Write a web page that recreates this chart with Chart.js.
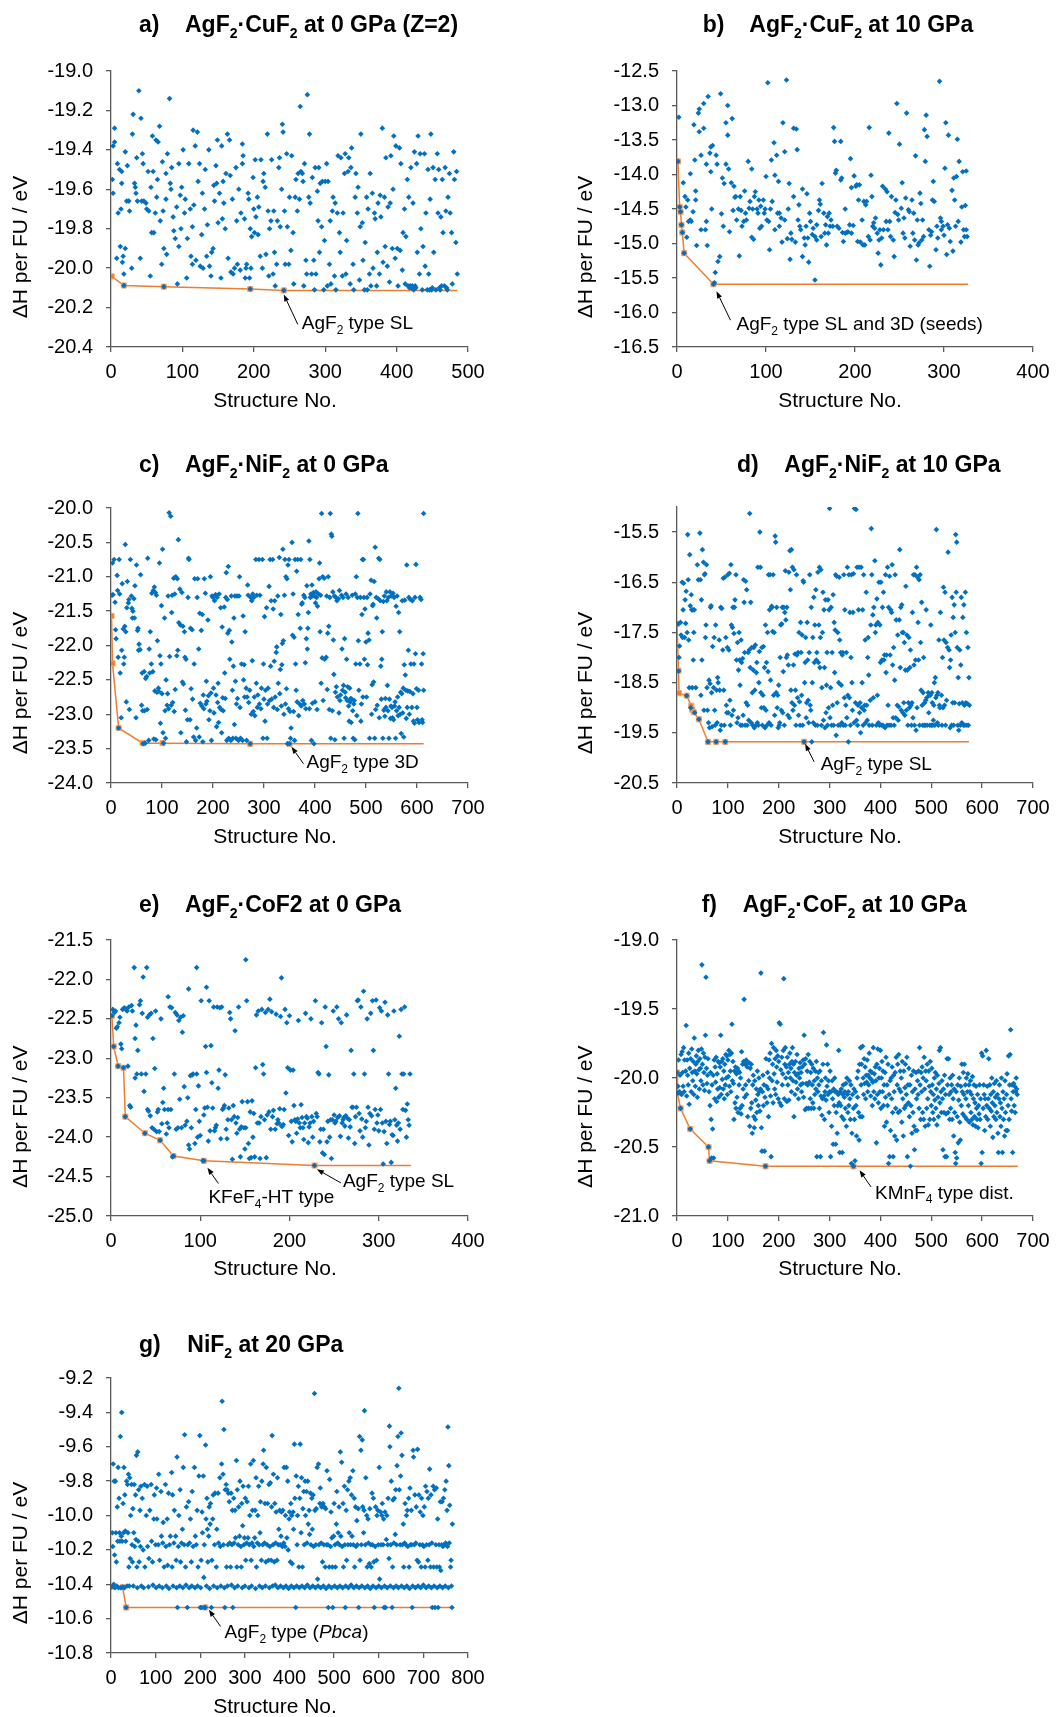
<!DOCTYPE html>
<html>
<head>
<meta charset="utf-8">
<script src="https://cdn.jsdelivr.net/npm/chart.js@4.4.1/dist/chart.umd.min.js"></script>
<style>
body { margin: 0; background: #fff; width: 1062px; height: 1717px; position: relative; overflow: hidden; }
canvas { position: absolute; }
</style>
</head>
<body>
<canvas id="ca" width="531" height="430" style="left:0;top:0"></canvas>
<canvas id="cb" width="531" height="430" style="left:531px;top:0"></canvas>
<canvas id="cc" width="531" height="440" style="left:0;top:430px"></canvas>
<canvas id="cd" width="531" height="440" style="left:531px;top:430px"></canvas>
<canvas id="ce" width="531" height="440" style="left:0;top:870px"></canvas>
<canvas id="cf" width="531" height="440" style="left:531px;top:870px"></canvas>
<canvas id="cg" width="531" height="407" style="left:0;top:1310px"></canvas>
<script>
// [structure no., ΔH per FU (eV)]
const aPts = [[2,-19.55],[3,-19.62],[3,-19.38],[5,-19.36],[5,-19.29],[8,-19.95],[9,-19.47],[10,-19.72],[12,-19.5],[13,-19.89],[14,-19.7],[15,-19.57],[15,-19.51],[16,-19.97],[17,-19.94],[18,-20.03],[18,-20.088],[20,-19.9],[20,-19.41],[22,-19.66],[23,-19.48],[25,-19.66],[26,-19.71],[29,-20.0],[30,-19.32],[31,-19.22],[33,-19.57],[34,-19.59],[35,-19.62],[36,-19.44],[37,-19.66],[39,-19.1],[41,-19.95],[42,-19.24],[43,-19.66],[44,-19.42],[45,-19.47],[46,-19.66],[49,-19.67],[50,-19.7],[52,-19.51],[53,-19.71],[55,-20.04],[56,-19.59],[57,-19.82],[58,-19.33],[59,-19.51],[60,-19.82],[62,-19.72],[63,-19.35],[64,-19.64],[65,-19.55],[66,-19.36],[68,-19.28],[69,-19.76],[71,-19.98],[72,-19.46],[73,-19.71],[74,-19.9],[74,-20.094],[77,-19.65],[77,-19.52],[78,-19.93],[79,-19.42],[82,-19.14],[83,-19.57],[84,-19.6],[85,-19.49],[87,-19.74],[88,-19.81],[90,-19.85],[92,-19.69],[93,-20.08],[95,-19.89],[95,-19.47],[97,-19.63],[98,-19.8],[99,-19.59],[101,-19.4],[103,-19.72],[104,-19.65],[106,-20.05],[107,-19.85],[109,-19.47],[111,-19.7],[112,-19.94],[114,-19.98],[114,-19.79],[115,-19.3],[116,-19.68],[118,-19.38],[119,-19.96],[121,-19.31],[122,-19.56],[124,-19.47],[125,-19.99],[127,-19.83],[128,-19.62],[129,-20.0],[131,-19.7],[132,-19.5],[134,-19.94],[135,-19.78],[137,-19.4],[138,-19.99],[140,-20.04],[141,-19.92],[143,-19.9],[144,-19.58],[145,-19.66],[147,-19.48],[148,-19.57],[149,-19.35],[150,-19.77],[152,-19.62],[154,-20.05],[155,-19.38],[156,-19.75],[157,-19.56],[158,-19.67],[160,-19.8],[161,-19.52],[163,-19.32],[164,-19.95],[166,-19.35],[167,-19.53],[168,-20.02],[170,-19.65],[171,-20.03],[173,-20.0],[175,-19.49],[176,-19.76],[177,-19.98],[179,-19.6],[181,-20.01],[182,-19.72],[184,-19.37],[184,-19.47],[185,-19.43],[187,-19.75],[188,-20.05],[189,-20.0],[190,-19.98],[192,-19.62],[193,-19.65],[194,-20.05],[195,-20.106],[195,-19.8],[196,-20.0],[197,-19.84],[199,-19.54],[200,-19.7],[201,-19.82],[202,-19.45],[203,-19.74],[205,-19.64],[206,-19.83],[207,-19.69],[209,-19.94],[210,-19.45],[212,-20.0],[213,-19.56],[214,-19.52],[216,-19.59],[217,-19.93],[219,-19.32],[220,-19.71],[221,-20.04],[222,-19.8],[224,-19.76],[225,-19.45],[227,-20.03],[228,-19.71],[229,-19.92],[230,-20.09],[232,-19.98],[233,-19.76],[235,-19.49],[236,-19.44],[237,-19.79],[239,-19.6],[240,-19.27],[241,-19.31],[242,-20.113],[243,-19.71],[244,-19.98],[246,-19.42],[247,-19.79],[249,-19.98],[250,-19.64],[252,-19.91],[253,-19.43],[255,-19.82],[256,-20.08],[258,-19.64],[259,-19.55],[261,-19.71],[262,-19.52],[264,-19.65],[265,-19.18],[266,-19.51],[268,-19.52],[269,-19.56],[270,-20.09],[271,-19.47],[273,-19.96],[274,-20.03],[275,-19.12],[277,-19.64],[278,-19.32],[279,-19.67],[281,-20.03],[282,-19.54],[284,-19.96],[285,-20.11],[286,-19.49],[287,-20.03],[289,-19.61],[290,-19.76],[291,-19.49],[292,-19.92],[293,-19.57],[295,-19.79],[296,-19.56],[298,-20.11],[299,-19.86],[300,-19.56],[302,-19.47],[303,-20.09],[304,-19.56],[306,-19.98],[307,-19.76],[308,-20.08],[310,-19.71],[311,-19.64],[313,-20.04],[314,-19.67],[315,-20.11],[317,-19.72],[318,-19.43],[320,-19.82],[321,-19.92],[322,-19.44],[324,-20.04],[325,-19.72],[327,-19.52],[328,-19.42],[329,-20.03],[330,-19.86],[332,-19.51],[333,-19.44],[335,-20.08],[336,-19.49],[337,-19.39],[339,-19.98],[340,-20.11],[342,-19.64],[343,-19.52],[345,-19.72],[346,-19.59],[348,-20.06],[349,-19.79],[350,-19.32],[352,-19.77],[353,-19.96],[355,-20.11],[356,-19.87],[358,-19.64],[359,-20.11],[360,-19.7],[362,-20.03],[363,-19.52],[364,-20.09],[366,-19.62],[367,-20.0],[369,-19.72],[370,-19.75],[372,-20.09],[373,-19.92],[374,-19.67],[376,-20.03],[377,-19.63],[378,-19.74],[380,-19.29],[381,-19.97],[383,-19.64],[384,-19.89],[385,-19.44],[387,-19.99],[388,-19.69],[390,-20.07],[391,-19.67],[392,-19.43],[394,-19.9],[395,-19.6],[396,-19.33],[398,-19.95],[399,-19.38],[401,-19.9],[402,-20.09],[404,-19.39],[405,-19.91],[406,-19.47],[408,-20.01],[409,-19.82],[411,-19.7],[412,-20.08],[413,-19.84],[415,-19.55],[416,-20.09],[417,-19.64],[418,-20.1],[419,-20.09],[420,-19.49],[421,-20.1],[422,-20.09],[423,-19.67],[424,-20.11],[425,-19.41],[426,-20.09],[427,-20.1],[428,-19.47],[429,-19.92],[430,-19.33],[432,-20.03],[433,-19.42],[434,-19.8],[436,-20.11],[437,-19.89],[439,-19.42],[440,-19.99],[441,-19.72],[443,-20.11],[444,-19.5],[445,-20.03],[446,-20.11],[447,-19.65],[448,-19.32],[449,-20.11],[450,-20.1],[451,-19.49],[452,-19.92],[454,-19.55],[455,-20.11],[457,-19.42],[458,-19.72],[459,-19.5],[460,-20.1],[461,-20.11],[462,-19.74],[463,-20.09],[464,-19.55],[465,-19.82],[467,-20.09],[468,-19.49],[469,-19.71],[470,-20.1],[471,-20.11],[472,-19.64],[474,-19.52],[475,-19.72],[477,-19.82],[478,-20.08],[480,-19.41],[481,-19.55],[483,-19.87],[484,-19.51],[485,-20.03]];
const aMin = [[1,-20.042],[18,-20.088],[74,-20.094],[195,-20.106],[242,-20.113],[485,-20.113]];

const bPts = [[2,-13.17],[1,-13.81],[3,-14.47],[4,-14.54],[5,-14.73],[6,-14.84],[7,-14.12],[8,-15.14],[9,-14.32],[10,-14.47],[11,-14.91],[12,-14.37],[13,-14.68],[15,-14.66],[15,-13.99],[16,-14.68],[18,-14.54],[19,-13.28],[20,-13.79],[21,-14.24],[21,-14.37],[22,-15.03],[24,-13.11],[25,-13.05],[25,-13.38],[27,-14.8],[27,-13.72],[30,-13.33],[30,-12.97],[32,-14.8],[33,-13.85],[33,-14.68],[34,-15.03],[35,-12.87],[37,-13.69],[38,-13.6],[38,-13.96],[39,-14.5],[40,-13.58],[41,-15.59],[42,-15.57],[43,-15.42],[44,-13.72],[45,-13.85],[46,-15.26],[48,-15.19],[49,-12.83],[50,-14.57],[51,-14.05],[52,-14.75],[53,-14.13],[55,-13.25],[55,-13.85],[57,-13.43],[57,-13.0],[58,-13.92],[59,-14.83],[61,-14.12],[62,-13.19],[63,-14.52],[64,-14.17],[65,-14.33],[66,-14.32],[67,-14.66],[69,-14.5],[70,-15.18],[71,-14.32],[72,-14.52],[73,-14.75],[75,-14.68],[76,-14.24],[77,-14.56],[78,-14.66],[80,-13.81],[81,-14.49],[82,-14.39],[84,-14.91],[84,-13.92],[85,-14.5],[86,-14.94],[87,-14.32],[88,-14.25],[90,-14.5],[91,-14.56],[92,-14.37],[93,-14.78],[94,-14.46],[95,-14.75],[97,-14.37],[98,-14.56],[99,-14.5],[100,-14.03],[101,-14.66],[102,-12.67],[103,-14.68],[104,-15.09],[105,-14.5],[106,-13.79],[107,-14.39],[109,-13.54],[110,-14.01],[110,-14.8],[112,-13.72],[113,-14.56],[114,-14.1],[115,-14.56],[115,-14.75],[117,-14.63],[118,-14.98],[119,-13.25],[121,-14.66],[121,-13.67],[123,-12.63],[124,-14.93],[125,-14.5],[126,-14.13],[127,-15.23],[128,-14.85],[129,-14.94],[131,-14.32],[131,-13.33],[133,-14.98],[134,-13.34],[135,-13.64],[136,-14.66],[137,-14.44],[138,-14.75],[139,-14.8],[141,-14.21],[141,-15.19],[143,-14.92],[144,-15.02],[145,-14.75],[146,-14.28],[147,-14.92],[148,-15.27],[149,-14.56],[150,-14.68],[152,-14.87],[153,-14.78],[155,-15.53],[155,-14.9],[157,-14.95],[157,-14.73],[159,-14.52],[160,-14.37],[161,-14.43],[162,-14.9],[163,-14.13],[165,-14.56],[166,-14.85],[167,-14.73],[168,-15.02],[169,-14.61],[170,-14.85],[171,-14.56],[172,-14.75],[173,-14.66],[175,-14.75],[176,-13.32],[177,-13.52],[178,-13.98],[179,-13.94],[180,-14.75],[182,-14.78],[184,-14.08],[184,-13.52],[185,-14.05],[186,-14.84],[187,-14.97],[189,-14.85],[189,-14.5],[191,-14.84],[192,-14.83],[194,-14.73],[195,-13.77],[196,-14.85],[196,-14.19],[198,-14.74],[199,-14.02],[201,-14.17],[202,-14.15],[203,-14.97],[204,-14.37],[205,-14.15],[206,-14.98],[208,-14.66],[209,-15.02],[210,-14.39],[211,-15.02],[212,-14.44],[213,-14.39],[215,-14.9],[216,-13.32],[217,-14.95],[218,-14.01],[219,-14.32],[220,-14.75],[221,-14.7],[222,-14.78],[223,-14.63],[225,-14.85],[226,-15.14],[227,-14.95],[228,-14.8],[229,-15.31],[230,-14.92],[231,-14.17],[232,-14.8],[234,-14.21],[235,-14.68],[236,-14.25],[237,-14.8],[238,-13.4],[239,-14.68],[240,-14.9],[241,-14.32],[243,-14.95],[244,-15.19],[245,-14.55],[246,-14.37],[247,-12.97],[248,-14.58],[249,-14.66],[250,-13.56],[252,-14.49],[253,-14.12],[254,-14.85],[255,-14.63],[256,-14.92],[257,-14.34],[258,-13.11],[260,-14.51],[261,-14.54],[262,-15.04],[264,-14.37],[265,-14.85],[266,-14.56],[267,-14.95],[268,-13.73],[269,-15.24],[270,-14.66],[271,-15.02],[272,-14.99],[273,-14.27],[274,-14.42],[275,-14.95],[276,-14.66],[277,-14.9],[278,-13.35],[279,-13.81],[280,-13.14],[281,-13.45],[283,-14.8],[284,-15.33],[285,-14.88],[286,-14.83],[287,-14.37],[288,-14.1],[289,-14.39],[291,-15.09],[292,-14.75],[293,-14.92],[295,-12.65],[296,-14.63],[297,-14.8],[297,-14.68],[299,-14.75],[300,-14.88],[301,-13.91],[302,-13.25],[303,-15.16],[304,-14.73],[305,-13.43],[306,-14.78],[307,-14.97],[309,-14.23],[310,-15.11],[311,-14.05],[312,-14.37],[313,-14.75],[314,-14.03],[315,-13.49],[316,-14.68],[317,-13.81],[319,-14.98],[320,-14.47],[321,-13.96],[322,-14.8],[323,-14.9],[324,-14.45],[325,-14.8],[326,-14.9],[325,-13.95]];
const bMin = [[1,-13.81],[3,-14.47],[4,-14.54],[5,-14.73],[6,-14.84],[8,-15.14],[41,-15.59],[327,-15.59]];

const cPts = [[2,-21.27],[3,-20.8],[4,-21.26],[6,-20.75],[8,-21.37],[9,-21.77],[10,-21.9],[12,-20.98],[13,-21.2],[14,-22.17],[15,-23.2],[16,-20.75],[17,-21.25],[18,-22.4],[20,-23.05],[21,-22.07],[22,-21.1],[24,-21.76],[25,-22.27],[26,-22.17],[27,-21.72],[28,-20.53],[29,-21.8],[30,-22.82],[31,-21.45],[32,-21.07],[34,-21.38],[35,-21.33],[36,-22.93],[38,-20.75],[40,-21.28],[41,-21.46],[42,-21.6],[43,-21.5],[45,-21.32],[46,-21.6],[47,-21.13],[49,-23.05],[50,-20.83],[52,-21.78],[53,-21.75],[54,-22.07],[55,-21.98],[57,-22.06],[58,-20.97],[60,-22.87],[61,-22.4],[62,-22.95],[63,-23.43],[65,-22.38],[66,-22.95],[67,-23.42],[68,-22.48],[70,-22.45],[71,-22.93],[72,-20.73],[74,-23.38],[75,-22.05],[76,-22.4],[77,-21.8],[79,-22.27],[80,-21.24],[82,-22.38],[83,-21.2],[84,-23.36],[85,-21.15],[86,-22.66],[87,-21.23],[88,-23.37],[89,-21.27],[90,-22.68],[91,-21.93],[93,-22.62],[94,-22.67],[95,-20.8],[96,-22.15],[97,-23.13],[98,-22.27],[99,-21.42],[100,-22.7],[101,-20.6],[102,-23.27],[103,-23.42],[105,-21.6],[106,-22.95],[107,-23.35],[108,-22.5],[110,-22.87],[111,-22.7],[112,-21.28],[113,-22.92],[114,-20.07],[115,-22.16],[117,-20.12],[118,-22.87],[119,-21.52],[120,-21.27],[121,-22.83],[123,-21.02],[124,-22.96],[125,-21.25],[126,-22.64],[127,-21.0],[129,-22.15],[130,-21.03],[131,-22.07],[132,-20.46],[133,-21.67],[135,-21.18],[136,-21.7],[137,-23.27],[139,-21.23],[140,-22.53],[141,-21.72],[142,-22.56],[144,-21.8],[145,-22.17],[146,-22.94],[147,-22.2],[148,-23.4],[150,-23.08],[151,-21.3],[152,-20.73],[153,-20.75],[155,-23.08],[156,-21.75],[157,-22.63],[159,-21.77],[160,-22.78],[162,-23.33],[163,-22.27],[164,-21.03],[166,-23.38],[168,-23.2],[169,-21.3],[170,-21.03],[172,-22.05],[173,-23.33],[174,-21.53],[175,-22.84],[177,-21.78],[178,-22.88],[179,-21.55],[180,-23.4],[181,-22.72],[182,-22.92],[183,-21.03],[185,-21.24],[186,-22.85],[187,-22.52],[188,-22.81],[190,-21.63],[191,-22.73],[192,-23.08],[194,-22.95],[195,-21.0],[196,-22.69],[197,-23.38],[198,-21.28],[200,-21.3],[201,-22.62],[202,-22.98],[203,-21.35],[205,-21.26],[206,-22.72],[207,-23.18],[208,-21.3],[209,-22.83],[210,-22.55],[211,-23.12],[212,-21.25],[213,-22.9],[215,-21.45],[216,-22.93],[217,-23.27],[218,-21.73],[219,-22.76],[220,-22.95],[222,-21.44],[223,-22.4],[224,-22.77],[225,-21.3],[226,-20.94],[227,-23.38],[228,-21.33],[229,-21.82],[230,-20.85],[231,-23.35],[232,-21.78],[233,-22.2],[235,-23.38],[236,-21.28],[237,-21.95],[238,-22.65],[239,-23.35],[240,-22.3],[241,-21.6],[242,-23.15],[243,-21.28],[244,-22.52],[245,-23.35],[246,-22.85],[247,-21.28],[248,-22.77],[250,-23.38],[251,-21.28],[252,-21.0],[253,-22.9],[254,-23.35],[256,-22.27],[258,-23.38],[259,-21.57],[260,-22.5],[261,-22.28],[262,-22.75],[263,-21.8],[265,-22.62],[266,-23.38],[267,-22.75],[268,-21.12],[269,-21.27],[270,-22.83],[272,-22.65],[273,-23.43],[274,-21.3],[275,-23.0],[276,-21.35],[277,-22.22],[278,-21.25],[279,-22.96],[280,-21.3],[281,-22.75],[282,-23.02],[284,-20.75],[285,-22.55],[286,-21.27],[287,-22.9],[288,-22.72],[290,-20.75],[291,-22.85],[292,-21.27],[294,-22.92],[295,-22.62],[297,-20.75],[298,-23.35],[299,-22.27],[300,-22.78],[301,-21.58],[302,-23.1],[303,-22.65],[305,-21.45],[306,-23.35],[307,-22.85],[308,-22.62],[310,-21.14],[311,-22.8],[312,-20.75],[313,-22.3],[314,-21.35],[315,-22.78],[317,-20.75],[318,-21.47],[319,-22.9],[320,-22.23],[321,-21.35],[322,-22.75],[324,-22.1],[325,-22.02],[326,-22.93],[327,-21.28],[328,-22.55],[330,-20.72],[331,-22.7],[332,-22.35],[333,-21.55],[334,-22.88],[335,-22.28],[336,-21.97],[337,-20.6],[338,-21.93],[339,-23.0],[340,-21.27],[341,-20.75],[342,-22.85],[343,-21.0],[344,-22.63],[345,-21.03],[346,-23.43],[347,-20.83],[348,-22.92],[349,-20.75],[350,-23.43],[351,-22.96],[352,-23.35],[353,-23.2],[355,-20.5],[356,-21.85],[357,-21.25],[358,-22.96],[359,-21.88],[360,-23.38],[361,-20.75],[362,-22.27],[363,-22.65],[364,-20.92],[365,-22.82],[366,-20.75],[367,-21.55],[368,-23.02],[370,-22.85],[371,-21.75],[372,-20.75],[373,-22.88],[374,-21.4],[375,-21.38],[376,-22.8],[378,-21.27],[379,-22.85],[380,-21.3],[381,-22.25],[382,-22.92],[383,-21.9],[384,-21.13],[385,-22.05],[386,-21.75],[387,-21.52],[388,-20.48],[389,-22.92],[390,-20.75],[391,-21.3],[392,-21.25],[393,-23.38],[394,-21.12],[395,-22.84],[396,-21.28],[397,-21.23],[398,-23.43],[399,-21.28],[400,-22.82],[401,-21.38],[402,-21.22],[403,-21.3],[404,-22.93],[405,-21.43],[407,-21.25],[408,-21.03],[409,-20.8],[410,-21.8],[411,-21.27],[412,-22.55],[413,-20.08],[414,-22.18],[415,-21.0],[416,-22.8],[418,-21.02],[419,-22.2],[422,-22.17],[423,-21.28],[424,-22.64],[425,-21.82],[426,-21.0],[427,-21.72],[428,-22.93],[429,-21.3],[430,-20.08],[431,-23.35],[432,-20.38],[433,-20.41],[434,-22.95],[435,-21.22],[436,-21.92],[437,-22.42],[438,-21.28],[439,-23.37],[440,-22.68],[441,-21.3],[442,-22.6],[443,-21.35],[444,-22.75],[446,-21.32],[447,-22.98],[448,-21.2],[449,-22.8],[450,-22.72],[452,-21.27],[453,-22.05],[454,-22.65],[455,-21.3],[456,-22.58],[457,-23.35],[458,-21.9],[459,-22.68],[460,-22.76],[461,-21.25],[462,-22.2],[463,-22.8],[464,-22.6],[465,-21.3],[466,-22.88],[467,-23.1],[468,-22.62],[469,-22.82],[470,-22.77],[471,-23.12],[472,-22.78],[473,-21.27],[474,-22.95],[475,-23.35],[476,-22.85],[477,-22.8],[478,-23.37],[479,-21.25],[480,-22.27],[481,-21.0],[482,-23.02],[483,-21.3],[484,-20.08],[485,-21.93],[486,-22.65],[488,-22.27],[489,-21.3],[490,-23.1],[491,-22.85],[492,-21.55],[493,-20.75],[494,-22.75],[495,-20.75],[496,-21.3],[497,-22.2],[498,-21.47],[500,-21.95],[501,-22.75],[502,-21.3],[503,-22.28],[504,-21.82],[506,-21.92],[507,-23.35],[508,-21.25],[510,-21.05],[511,-23.0],[512,-22.57],[513,-21.42],[514,-21.4],[515,-22.53],[516,-21.07],[517,-23.35],[518,-20.57],[519,-22.93],[520,-21.3],[521,-21.6],[522,-22.87],[524,-21.32],[525,-20.73],[526,-23.05],[527,-20.75],[528,-21.35],[529,-22.3],[530,-22.78],[531,-22.2],[532,-21.8],[533,-23.35],[534,-21.36],[535,-22.94],[536,-21.28],[537,-23.03],[538,-22.77],[539,-22.9],[540,-21.22],[541,-21.35],[542,-22.58],[543,-22.95],[544,-21.3],[545,-23.35],[546,-22.78],[547,-21.22],[548,-23.06],[549,-22.88],[550,-21.28],[551,-22.9],[552,-23.05],[553,-21.24],[554,-23.08],[555,-21.3],[556,-22.88],[557,-22.82],[558,-23.35],[559,-21.43],[560,-22.95],[561,-21.28],[562,-22.75],[563,-23.02],[564,-21.52],[565,-22.9],[566,-21.8],[567,-23.0],[568,-22.68],[569,-23.28],[570,-22.7],[571,-21.35],[572,-22.98],[573,-22.62],[574,-23.33],[575,-22.28],[576,-21.34],[577,-22.43],[578,-22.65],[579,-23.06],[580,-20.83],[581,-22.9],[582,-22.66],[583,-22.07],[584,-21.3],[585,-23.0],[586,-22.67],[587,-21.33],[588,-22.27],[590,-22.9],[591,-21.35],[592,-22.7],[593,-23.1],[594,-22.27],[595,-23.13],[596,-21.3],[597,-22.12],[598,-20.82],[599,-22.63],[600,-22.9],[601,-23.08],[603,-22.65],[604,-23.12],[606,-21.3],[608,-21.33],[609,-22.27],[610,-23.08],[611,-23.12],[612,-22.12],[613,-22.65],[613,-20.08]];
const cMin = [[1,-21.57],[3,-22.26],[15,-23.2],[62,-23.42],[101,-23.42],[273,-23.43],[350,-23.43],[613,-23.43]];

const dPts = [[2,-17.33],[3,-18.27],[4,-18.0],[5,-17.77],[7,-17.3],[8,-17.55],[10,-16.5],[11,-17.6],[12,-17.05],[13,-16.52],[15,-17.6],[16,-16.85],[17,-17.32],[18,-16.68],[19,-18.76],[20,-17.5],[21,-15.55],[22,-16.45],[23,-17.65],[24,-18.6],[25,-15.95],[26,-16.97],[27,-19.0],[28,-16.75],[29,-17.05],[30,-18.6],[31,-17.05],[32,-18.05],[33,-17.5],[34,-17.05],[35,-19.1],[37,-18.6],[40,-16.15],[42,-16.45],[43,-19.23],[45,-15.52],[46,-16.45],[47,-18.75],[48,-16.85],[49,-18.05],[50,-15.85],[52,-16.1],[53,-19.05],[54,-16.35],[55,-16.33],[56,-17.6],[57,-17.35],[58,-16.15],[59,-18.6],[60,-19.05],[61,-19.68],[62,-19.3],[63,-18.45],[64,-19.4],[65,-18.52],[66,-17.0],[67,-16.97],[68,-18.7],[69,-19.38],[70,-17.78],[72,-18.6],[73,-17.6],[74,-19.05],[75,-19.35],[76,-17.35],[77,-19.68],[78,-18.65],[79,-19.3],[80,-18.4],[81,-18.5],[83,-17.65],[84,-18.65],[85,-19.45],[86,-17.0],[87,-19.35],[88,-17.02],[90,-17.85],[91,-16.42],[92,-18.65],[93,-19.35],[94,-16.4],[95,-19.68],[96,-17.6],[97,-18.95],[98,-19.1],[99,-17.8],[100,-16.35],[101,-19.1],[102,-17.85],[103,-16.32],[104,-18.85],[105,-19.35],[106,-16.15],[107,-17.35],[108,-19.15],[109,-17.4],[110,-17.0],[111,-19.05],[112,-17.52],[113,-17.0],[114,-16.85],[116,-16.35],[117,-18.05],[118,-19.3],[119,-17.7],[120,-19.2],[121,-18.25],[122,-17.5],[123,-18.05],[124,-18.55],[125,-19.35],[126,-17.65],[127,-18.1],[128,-19.35],[129,-18.02],[130,-19.15],[131,-16.45],[132,-16.9],[133,-17.9],[134,-19.35],[135,-16.48],[136,-18.9],[137,-16.65],[138,-19.35],[139,-18.95],[140,-17.9],[141,-19.25],[142,-17.85],[143,-15.13],[144,-18.2],[145,-16.9],[146,-19.3],[147,-17.8],[148,-18.7],[149,-19.35],[150,-18.25],[151,-17.8],[152,-19.4],[153,-18.65],[154,-17.75],[155,-19.35],[156,-18.3],[157,-18.1],[158,-19.3],[159,-16.2],[160,-19.35],[161,-18.5],[162,-17.88],[163,-15.5],[164,-16.2],[165,-18.7],[166,-19.0],[167,-17.8],[168,-19.35],[169,-18.75],[170,-17.78],[171,-19.0],[172,-18.2],[173,-19.4],[174,-17.35],[175,-19.05],[176,-18.1],[177,-19.35],[178,-17.5],[179,-18.28],[180,-16.35],[181,-19.3],[182,-17.05],[183,-16.35],[184,-18.45],[185,-19.35],[186,-16.98],[187,-17.0],[188,-17.48],[189,-16.35],[190,-18.75],[191,-17.5],[192,-19.15],[193,-15.58],[194,-15.7],[195,-18.7],[196,-17.0],[197,-19.0],[198,-18.75],[199,-19.4],[200,-18.55],[201,-19.35],[202,-19.3],[203,-18.0],[204,-17.35],[205,-19.05],[206,-17.33],[207,-17.0],[208,-19.1],[209,-18.28],[210,-17.0],[211,-19.35],[212,-17.1],[213,-16.27],[214,-17.25],[215,-18.0],[216,-17.0],[217,-17.95],[218,-19.15],[219,-18.15],[220,-16.3],[221,-19.2],[222,-15.87],[223,-16.65],[224,-18.65],[225,-15.85],[226,-18.9],[227,-16.2],[228,-19.05],[229,-18.15],[230,-16.25],[231,-18.95],[232,-17.93],[233,-18.65],[234,-19.35],[235,-16.35],[236,-17.95],[237,-18.8],[238,-17.9],[239,-19.15],[240,-17.5],[241,-18.88],[242,-19.35],[243,-17.3],[244,-17.9],[245,-18.75],[246,-17.55],[247,-19.35],[248,-16.47],[249,-16.5],[250,-19.68],[251,-18.5],[252,-18.1],[253,-17.6],[254,-19.2],[255,-18.9],[256,-17.3],[257,-18.05],[258,-18.85],[259,-19.3],[260,-17.9],[261,-16.35],[262,-18.95],[263,-19.05],[264,-17.0],[265,-19.68],[266,-18.5],[267,-17.6],[268,-19.3],[269,-16.8],[270,-18.1],[271,-17.35],[272,-19.35],[273,-16.65],[274,-18.05],[275,-17.9],[276,-19.35],[277,-16.3],[278,-18.1],[279,-17.35],[280,-16.2],[281,-18.2],[282,-17.6],[283,-16.25],[284,-19.35],[285,-18.6],[286,-17.5],[287,-16.7],[288,-19.25],[289,-17.05],[290,-18.2],[291,-19.4],[292,-16.85],[293,-19.1],[294,-18.55],[295,-17.9],[296,-19.35],[297,-16.85],[298,-19.0],[299,-17.05],[300,-15.03],[301,-19.2],[302,-18.6],[303,-17.0],[304,-19.35],[305,-17.9],[306,-18.95],[307,-16.75],[308,-19.35],[309,-17.3],[310,-18.3],[311,-17.45],[312,-16.35],[313,-19.55],[314,-16.38],[315,-18.9],[316,-17.5],[317,-19.35],[318,-18.5],[319,-16.4],[320,-17.65],[321,-19.35],[322,-17.9],[323,-18.55],[324,-19.3],[325,-17.95],[326,-17.9],[327,-19.35],[328,-16.35],[329,-18.8],[330,-17.05],[331,-19.35],[332,-18.95],[333,-17.9],[334,-19.2],[335,-16.2],[336,-18.75],[337,-19.68],[338,-16.35],[339,-18.8],[340,-17.1],[341,-19.35],[342,-18.0],[343,-16.35],[344,-18.5],[345,-19.05],[346,-17.1],[347,-16.33],[348,-19.3],[349,-15.03],[352,-15.05],[351,-18.9],[353,-19.25],[354,-16.2],[355,-19.35],[356,-18.95],[357,-17.05],[358,-16.2],[359,-19.1],[360,-18.9],[361,-19.5],[362,-16.2],[363,-19.0],[364,-18.5],[365,-17.05],[366,-19.35],[367,-16.35],[368,-19.05],[369,-18.95],[370,-17.65],[371,-19.3],[372,-16.7],[373,-18.95],[374,-19.25],[375,-18.0],[376,-17.6],[377,-18.35],[378,-19.35],[380,-18.85],[381,-17.35],[382,-15.43],[383,-16.35],[384,-19.35],[385,-17.15],[386,-18.8],[387,-17.0],[389,-16.07],[390,-17.5],[391,-17.35],[392,-19.35],[393,-16.83],[394,-18.75],[395,-17.3],[396,-19.3],[397,-16.5],[398,-19.35],[399,-17.35],[400,-18.1],[401,-16.5],[402,-19.35],[403,-18.05],[404,-17.0],[405,-19.35],[406,-16.7],[407,-18.05],[408,-17.95],[409,-19.4],[410,-16.35],[411,-18.3],[412,-17.95],[413,-19.35],[414,-16.2],[415,-18.95],[416,-17.0],[417,-19.35],[418,-16.38],[419,-17.95],[420,-17.05],[421,-19.35],[422,-17.1],[423,-16.15],[424,-18.15],[425,-19.2],[426,-17.8],[427,-19.35],[428,-18.45],[429,-16.35],[430,-19.2],[431,-17.25],[433,-18.95],[434,-17.55],[435,-19.25],[436,-18.98],[437,-17.25],[438,-15.85],[439,-18.2],[440,-17.0],[441,-19.05],[442,-16.95],[443,-17.5],[444,-19.1],[445,-17.5],[446,-18.9],[447,-17.7],[448,-19.15],[449,-18.25],[450,-16.58],[451,-19.05],[452,-17.55],[453,-18.25],[454,-19.35],[455,-18.9],[456,-17.6],[457,-19.0],[458,-18.2],[459,-17.85],[460,-18.95],[461,-19.35],[462,-18.9],[463,-17.1],[464,-19.2],[465,-16.35],[466,-18.15],[467,-19.35],[468,-16.35],[469,-18.05],[470,-19.45],[471,-16.2],[472,-19.0],[473,-16.4],[474,-17.3],[475,-18.05],[476,-16.45],[477,-19.35],[478,-16.35],[479,-17.7],[480,-18.65],[481,-16.9],[482,-18.95],[483,-19.35],[484,-18.7],[485,-18.0],[486,-19.35],[487,-18.9],[488,-19.35],[489,-18.85],[490,-17.05],[491,-18.8],[492,-19.35],[494,-18.7],[495,-19.1],[496,-18.75],[497,-19.35],[498,-18.75],[499,-17.35],[500,-19.35],[501,-18.7],[502,-18.9],[503,-19.35],[504,-19.25],[505,-18.95],[506,-18.5],[507,-19.35],[508,-18.4],[509,-18.8],[510,-15.45],[511,-18.75],[512,-19.3],[513,-18.7],[514,-19.35],[515,-17.65],[516,-18.95],[517,-19.0],[518,-17.1],[520,-18.75],[521,-19.35],[522,-18.0],[523,-19.0],[524,-16.6],[525,-17.65],[526,-18.95],[527,-16.7],[528,-19.35],[529,-17.7],[530,-18.85],[532,-17.8],[533,-15.9],[535,-17.85],[536,-18.2],[537,-19.4],[538,-18.05],[539,-17.55],[540,-19.35],[541,-16.8],[542,-18.9],[543,-17.2],[544,-19.35],[545,-16.95],[546,-18.9],[547,-17.5],[548,-15.55],[549,-16.7],[550,-15.7],[551,-17.8],[552,-19.35],[553,-18.4],[554,-19.45],[555,-18.92],[556,-17.85],[557,-19.35],[558,-18.15],[559,-16.8],[560,-19.3],[561,-18.9],[562,-17.2],[563,-19.35],[564,-16.95],[565,-18.95],[566,-19.35],[567,-16.7],[568,-18.9],[569,-17.5],[570,-19.35],[571,-18.92],[572,-17.8],[573,-19.35],[574,-18.4],[575,-18.95]];
const dMin = [[0,-17.33],[3,-18.26],[4,-18.71],[19,-18.76],[28,-18.96],[30,-19.04],[33,-19.09],[43,-19.23],[61,-19.68],[77,-19.68],[95,-19.68],[250,-19.68],[574,-19.68]];

const ePts = [[1,-22.46],[2,-22.38],[3,-22.85],[4,-22.42],[5,-22.4],[6,-22.62],[7,-22.6],[8,-23.1],[9,-22.55],[10,-22.48],[11,-22.82],[12,-22.88],[13,-22.38],[14,-23.12],[15,-22.36],[16,-23.74],[17,-22.38],[18,-22.4],[19,-23.1],[20,-22.35],[21,-23.6],[22,-23.62],[23,-22.33],[24,-22.4],[26,-21.85],[27,-23.25],[27,-22.75],[28,-22.58],[29,-23.2],[30,-22.9],[36,-21.97],[32,-22.32],[33,-22.27],[34,-23.2],[40,-21.85],[35,-22.43],[37,-23.42],[38,-23.95],[39,-23.2],[41,-22.48],[41,-23.65],[42,-23.67],[43,-22.45],[44,-23.73],[45,-22.43],[46,-23.88],[47,-22.75],[48,-23.9],[49,-23.13],[50,-22.4],[51,-23.93],[52,-23.68],[53,-23.65],[54,-23.93],[55,-24.04],[56,-22.5],[57,-23.83],[58,-23.56],[59,-23.38],[60,-23.65],[64,-22.22],[62,-23.96],[63,-23.82],[64,-23.65],[65,-23.88],[66,-22.35],[67,-23.65],[68,-22.36],[69,-24.25],[70,-24.24],[71,-23.2],[72,-22.42],[73,-23.9],[74,-22.45],[75,-23.88],[76,-22.52],[77,-23.52],[78,-22.48],[79,-23.88],[80,-22.67],[81,-22.46],[82,-23.36],[83,-23.85],[87,-22.12],[85,-23.8],[86,-23.5],[87,-24.1],[88,-24.15],[89,-23.22],[90,-23.88],[91,-23.21],[92,-23.2],[96,-21.85],[94,-24.08],[95,-23.65],[96,-23.2],[97,-24.0],[98,-23.35],[99,-23.8],[100,-23.98],[101,-22.27],[107,-22.1],[103,-24.3],[104,-24.3],[104,-23.72],[105,-23.63],[106,-22.85],[107,-23.18],[108,-23.62],[109,-24.05],[110,-22.27],[111,-23.92],[112,-22.84],[113,-23.31],[114,-23.63],[115,-22.35],[116,-23.92],[117,-23.88],[118,-23.85],[119,-22.35],[120,-23.38],[121,-23.15],[122,-22.36],[123,-24.02],[124,-22.35],[125,-23.65],[126,-23.63],[127,-23.6],[128,-23.21],[129,-23.9],[130,-24.02],[131,-23.78],[132,-23.63],[133,-22.42],[134,-22.5],[135,-23.78],[136,-24.28],[137,-23.6],[138,-23.74],[139,-22.65],[140,-23.82],[141,-23.95],[142,-23.75],[143,-22.35],[144,-23.9],[145,-24.25],[146,-23.87],[147,-23.55],[151,-21.75],[149,-23.88],[150,-24.15],[151,-23.88],[152,-22.27],[153,-23.55],[154,-24.08],[155,-24.27],[156,-23.68],[157,-24.26],[158,-23.54],[159,-24.0],[160,-23.7],[161,-24.25],[162,-23.12],[163,-22.45],[164,-23.82],[165,-22.4],[166,-23.82],[167,-24.27],[168,-23.74],[169,-22.38],[170,-23.08],[171,-23.2],[172,-23.78],[173,-22.42],[174,-24.26],[175,-23.72],[176,-22.38],[177,-23.68],[178,-22.25],[179,-23.9],[180,-22.41],[181,-23.74],[182,-23.66],[191,-21.98],[184,-23.9],[185,-22.44],[186,-23.83],[187,-23.78],[188,-23.82],[189,-23.64],[190,-22.47],[191,-23.86],[192,-23.86],[193,-23.84],[194,-23.65],[195,-22.38],[196,-23.44],[197,-22.55],[198,-23.12],[199,-23.98],[200,-22.46],[201,-23.15],[202,-23.8],[203,-24.06],[204,-23.15],[205,-23.6],[206,-23.78],[207,-23.8],[208,-23.95],[209,-23.77],[210,-22.52],[211,-23.82],[212,-23.88],[213,-23.59],[214,-23.75],[215,-23.88],[216,-24.03],[217,-23.82],[218,-22.43],[219,-23.74],[220,-23.76],[221,-24.07],[222,-23.87],[223,-23.82],[224,-22.5],[225,-23.74],[226,-24.0],[227,-23.8],[228,-24.36],[229,-22.27],[230,-23.7],[231,-23.74],[232,-23.18],[233,-23.2],[234,-24.06],[235,-23.9],[236,-22.55],[237,-24.2],[238,-23.9],[239,-24.22],[240,-22.35],[241,-22.85],[242,-24.06],[243,-23.8],[244,-23.21],[245,-24.0],[246,-23.78],[247,-24.27],[248,-23.78],[249,-22.4],[250,-23.72],[251,-23.82],[252,-23.8],[253,-22.35],[254,-23.75],[255,-22.5],[256,-23.73],[257,-23.99],[258,-22.55],[259,-23.82],[260,-23.78],[261,-23.75],[262,-23.86],[263,-23.73],[264,-22.45],[265,-23.76],[266,-24.01],[267,-23.78],[268,-23.87],[269,-22.9],[270,-23.62],[271,-23.62],[272,-23.2],[273,-24.08],[274,-23.74],[275,-23.62],[276,-22.27],[277,-22.26],[278,-23.7],[279,-23.92],[280,-22.35],[281,-23.77],[282,-24.0],[283,-22.15],[284,-23.2],[285,-23.88],[286,-23.8],[287,-22.5],[288,-23.62],[289,-24.1],[290,-23.7],[291,-22.43],[292,-23.73],[293,-22.27],[294,-22.9],[295,-23.9],[296,-23.65],[297,-22.26],[298,-23.82],[299,-23.72],[300,-23.92],[301,-22.36],[302,-23.65],[303,-22.4],[304,-23.82],[305,-24.34],[306,-23.93],[307,-22.29],[308,-23.8],[309,-24.08],[310,-22.45],[311,-23.2],[312,-23.84],[313,-23.8],[314,-24.32],[315,-23.97],[316,-23.98],[317,-22.4],[318,-23.78],[319,-23.38],[320,-23.85],[321,-24.05],[322,-23.82],[323,-22.72],[324,-23.9],[325,-22.38],[326,-23.2],[327,-23.65],[328,-23.2],[329,-22.35],[330,-23.66],[331,-24.0],[332,-23.58],[333,-23.78],[334,-23.85],[335,-23.2]];
const eMin = [[1,-22.46],[3,-22.85],[8,-23.1],[14,-23.12],[16,-23.74],[38,-23.95],[55,-24.04],[70,-24.24],[104,-24.3],[228,-24.36],[336,-24.36]];

const fPts = [[0,-19.96],[1,-20.11],[2,-20.06],[3,-19.87],[5,-20.1],[6,-19.98],[7,-20.22],[8,-19.83],[9,-20.12],[10,-19.81],[11,-19.96],[12,-20.06],[13,-19.78],[14,-20.1],[15,-19.87],[17,-19.95],[18,-19.62],[19,-20.13],[20,-19.87],[21,-19.98],[22,-20.05],[23,-19.82],[24,-20.19],[25,-19.93],[26,-20.37],[27,-19.86],[28,-20.1],[29,-19.79],[30,-19.96],[31,-20.02],[32,-19.88],[33,-20.12],[34,-19.71],[35,-19.95],[36,-20.06],[37,-19.9],[38,-19.84],[39,-19.97],[40,-20.14],[41,-19.88],[42,-19.8],[43,-19.94],[44,-20.08],[45,-19.86],[46,-19.93],[47,-20.02],[48,-19.79],[49,-19.18],[50,-19.9],[51,-20.05],[52,-19.82],[53,-19.96],[54,-20.09],[55,-19.85],[56,-19.69],[57,-19.27],[58,-19.93],[59,-20.04],[60,-19.98],[61,-19.86],[62,-20.5],[63,-20.1],[64,-20.6],[65,-20.2],[66,-19.96],[67,-20.3],[68,-20.58],[69,-20.05],[70,-20.37],[71,-19.98],[72,-20.58],[73,-19.87],[74,-20.15],[75,-19.92],[76,-20.03],[77,-19.85],[78,-20.17],[79,-19.97],[80,-20.08],[81,-19.88],[82,-20.14],[83,-19.89],[84,-20.07],[85,-19.92],[86,-19.69],[87,-20.12],[88,-19.88],[89,-20.01],[90,-19.86],[91,-20.08],[92,-19.95],[93,-20.15],[94,-19.9],[95,-20.05],[96,-19.83],[97,-20.0],[98,-19.84],[99,-20.12],[100,-19.87],[101,-19.99],[102,-19.8],[103,-20.06],[104,-19.83],[105,-19.95],[106,-20.1],[107,-19.82],[108,-19.61],[109,-20.02],[110,-19.88],[111,-20.04],[112,-20.3],[113,-19.95],[114,-20.18],[115,-19.92],[116,-20.22],[117,-19.97],[118,-20.14],[119,-19.93],[120,-20.25],[121,-19.95],[122,-20.05],[123,-19.96],[124,-20.22],[125,-20.0],[126,-20.26],[127,-19.81],[128,-20.2],[129,-19.9],[130,-20.08],[131,-19.88],[132,-19.43],[133,-20.14],[134,-19.9],[135,-20.05],[136,-19.87],[137,-20.12],[138,-19.92],[139,-20.28],[140,-19.89],[141,-20.02],[142,-19.89],[143,-20.35],[144,-19.93],[145,-20.22],[146,-19.9],[147,-20.18],[148,-20.4],[149,-20.05],[150,-19.98],[151,-20.28],[152,-20.36],[153,-20.02],[154,-20.3],[155,-20.16],[156,-20.08],[157,-20.25],[158,-19.95],[159,-20.12],[160,-20.2],[161,-20.0],[162,-20.1],[163,-20.24],[164,-20.08],[165,-19.24],[166,-20.36],[167,-20.53],[168,-20.1],[169,-19.98],[170,-20.2],[171,-20.05],[172,-20.53],[173,-20.14],[174,-20.64],[175,-19.86],[176,-20.06],[177,-20.18],[178,-19.96],[179,-20.08],[180,-20.28],[181,-19.87],[182,-20.0],[183,-19.82],[184,-20.13],[185,-20.57],[186,-19.75],[187,-20.02],[188,-19.9],[189,-20.18],[190,-19.78],[191,-19.97],[192,-20.08],[193,-19.86],[194,-20.12],[195,-19.8],[196,-19.92],[197,-20.03],[198,-19.84],[199,-20.15],[200,-19.88],[201,-19.6],[202,-20.18],[203,-19.61],[204,-19.94],[205,-20.2],[206,-19.85],[207,-20.05],[208,-19.97],[209,-19.8],[210,-19.28],[211,-20.15],[212,-19.9],[213,-19.78],[214,-20.0],[215,-19.92],[216,-20.17],[217,-19.85],[218,-20.05],[219,-19.96],[220,-20.16],[221,-19.9],[222,-19.82],[223,-20.0],[224,-19.93],[225,-20.1],[226,-19.88],[227,-19.78],[228,-20.02],[229,-19.9],[230,-20.28],[231,-19.96],[232,-20.12],[233,-19.88],[234,-20.03],[235,-19.98],[236,-19.83],[237,-20.08],[238,-19.97],[239,-20.15],[240,-19.93],[241,-20.0],[242,-19.89],[243,-20.05],[244,-19.96],[245,-20.1],[246,-19.92],[247,-20.04],[248,-19.87],[249,-20.14],[250,-19.69],[251,-19.9],[252,-20.23],[253,-19.86],[254,-20.04],[255,-20.22],[256,-19.95],[257,-20.05],[258,-19.83],[259,-20.22],[260,-20.03],[261,-19.88],[262,-20.15],[263,-19.96],[264,-20.22],[265,-19.9],[266,-20.05],[267,-20.18],[268,-19.93],[269,-20.22],[270,-20.02],[271,-20.12],[272,-19.95],[273,-20.08],[274,-19.88],[275,-20.57],[276,-20.0],[277,-20.1],[278,-19.96],[279,-20.05],[280,-20.22],[281,-19.95],[282,-20.57],[283,-20.13],[284,-20.02],[285,-20.27],[286,-20.15],[287,-19.9],[288,-19.67],[289,-20.13],[290,-20.3],[291,-20.1],[292,-20.0],[293,-20.16],[294,-19.76],[295,-20.06],[296,-19.9],[297,-20.12],[298,-20.02],[299,-20.25],[300,-20.1],[301,-19.95],[302,-20.57],[303,-20.1],[304,-20.35],[305,-20.02],[306,-20.15],[307,-20.48],[308,-20.08],[309,-20.2],[310,-20.0],[311,-20.1],[312,-20.48],[313,-20.25],[314,-20.1],[315,-20.4],[316,-20.2],[317,-20.12],[318,-19.8],[319,-20.18],[320,-20.54],[321,-20.1],[322,-20.2],[323,-20.08],[324,-20.28],[325,-20.54],[326,-20.12],[327,-20.05],[328,-20.3],[329,-20.14],[330,-20.1],[331,-20.22],[332,-20.04],[333,-20.35],[334,-20.0],[335,-20.12],[336,-20.25],[337,-20.1],[338,-20.2],[339,-20.02],[340,-20.15],[341,-20.3],[342,-20.05],[343,-20.62],[344,-20.4],[345,-20.12],[347,-20.64],[347,-20.22],[348,-20.08],[349,-20.3],[350,-20.6],[351,-20.1],[352,-20.2],[353,-20.42],[354,-20.0],[355,-20.14],[356,-19.95],[357,-20.25],[358,-20.45],[359,-19.9],[360,-20.28],[361,-19.78],[362,-20.05],[363,-19.9],[364,-20.28],[365,-19.77],[366,-20.0],[367,-20.12],[368,-19.86],[369,-20.04],[370,-19.92],[371,-20.15],[372,-19.98],[373,-20.03],[374,-19.87],[375,-20.1],[376,-19.98],[377,-20.05],[378,-19.82],[379,-20.0],[380,-19.95],[381,-20.13],[382,-20.01],[383,-19.96],[384,-20.2],[385,-20.03],[386,-19.78],[387,-20.1],[388,-19.97],[389,-20.15],[390,-19.92],[391,-20.02],[392,-20.47],[393,-19.9],[394,-20.12],[395,-19.79],[396,-20.18],[397,-20.0],[398,-19.93],[399,-20.1],[400,-19.8],[401,-20.22],[402,-20.0],[403,-19.88],[404,-20.1],[405,-19.95],[406,-20.2],[407,-20.05],[408,-20.35],[409,-19.96],[410,-20.14],[411,-19.85],[412,-20.32],[413,-20.05],[414,-20.2],[415,-19.9],[416,-20.62],[417,-20.12],[418,-20.57],[419,-20.02],[420,-20.38],[421,-20.0],[422,-20.15],[423,-19.92],[424,-20.25],[425,-20.57],[426,-19.98],[427,-20.1],[428,-20.42],[429,-19.96],[430,-20.22],[431,-19.85],[432,-20.45],[433,-20.05],[434,-19.9],[435,-20.25],[436,-19.83],[437,-20.08],[438,-20.24],[439,-19.95],[440,-20.1],[441,-20.0],[442,-20.32],[443,-19.88],[444,-20.15],[445,-20.42],[446,-19.95],[447,-20.22],[448,-20.07],[449,-19.9],[450,-20.2],[451,-20.12],[452,-19.85],[453,-20.57],[454,-20.05],[455,-20.18],[456,-19.93],[457,-20.28],[458,-20.05],[459,-20.64],[460,-20.2],[461,-19.98],[462,-20.4],[463,-20.1],[464,-20.25],[465,-19.95],[466,-20.35],[467,-20.52],[468,-20.08],[469,-20.38],[470,-19.96],[471,-20.15],[472,-20.38],[473,-20.02],[474,-20.12],[475,-19.95],[476,-20.22],[477,-19.78],[478,-20.05],[479,-20.3],[480,-19.96],[481,-20.1],[482,-19.92],[483,-20.25],[484,-20.0],[485,-20.3],[486,-19.85],[487,-20.08],[488,-20.35],[489,-19.95],[490,-20.02],[491,-20.22],[492,-19.9],[493,-20.15],[494,-20.34],[495,-19.95],[496,-20.06],[497,-20.3],[498,-19.88],[499,-20.1],[500,-20.2],[501,-19.93],[502,-20.05],[503,-20.25],[504,-20.12],[505,-20.3],[506,-20.0],[507,-20.16],[508,-19.96],[509,-20.22],[510,-20.08],[511,-20.34],[512,-19.98],[513,-20.14],[514,-20.28],[515,-20.04],[516,-19.8],[517,-20.18],[518,-19.78],[519,-20.1],[520,-20.25],[521,-20.02],[522,-20.15],[523,-20.52],[524,-20.08],[525,-20.25],[526,-19.98],[527,-20.57],[528,-20.12],[529,-20.26],[530,-20.57],[531,-19.86],[532,-20.05],[533,-20.25],[534,-19.86],[535,-20.12],[536,-20.3],[537,-20.0],[538,-20.22],[539,-20.1],[540,-20.05],[541,-20.3],[542,-19.98],[543,-20.15],[544,-20.42],[545,-20.08],[546,-20.25],[547,-20.54],[548,-20.62],[549,-20.1],[550,-20.58],[551,-20.28],[552,-20.05],[553,-20.47],[554,-20.16],[555,-20.0],[556,-20.32],[557,-20.45],[558,-20.06],[559,-20.2],[560,-19.9],[561,-20.1],[562,-20.26],[563,-19.96],[564,-20.12],[565,-19.9],[566,-20.28],[567,-20.05],[568,-20.15],[569,-20.0],[570,-20.3],[571,-20.1],[572,-19.97],[573,-20.2],[574,-20.05],[575,-20.32],[576,-20.1],[577,-20.02],[578,-20.25],[579,-20.12],[580,-20.3],[581,-19.99],[582,-20.34],[583,-20.15],[584,-20.05],[585,-20.28],[586,-20.18],[587,-20.35],[588,-20.06],[589,-20.22],[590,-20.3],[591,-20.12],[592,-20.36],[593,-20.2],[594,-20.26],[595,-20.05],[596,-20.3],[597,-20.15],[598,-20.62],[599,-19.82],[600,-20.54],[601,-19.84],[602,-20.22],[603,-20.05],[604,-20.12],[605,-20.38],[606,-20.15],[607,-20.28],[608,-19.8],[609,-20.2],[610,-20.06],[611,-20.3],[612,-20.15],[613,-19.86],[614,-20.22],[615,-20.05],[616,-20.35],[617,-20.12],[618,-20.24],[619,-20.0],[620,-20.18],[621,-20.43],[622,-20.1],[623,-20.28],[624,-20.04],[625,-20.2],[626,-20.14],[627,-20.3],[628,-20.02],[629,-20.25],[630,-20.12],[631,-20.4],[632,-20.54],[633,-20.15],[634,-20.05],[635,-20.28],[636,-20.18],[637,-20.35],[638,-20.0],[639,-20.22],[640,-20.54],[641,-20.1],[642,-20.3],[643,-20.15],[644,-20.42],[645,-20.02],[646,-20.25],[647,-20.38],[648,-20.12],[649,-19.97],[650,-20.38],[651,-20.2],[652,-19.84],[653,-20.3],[654,-20.05],[655,-19.83],[656,-19.65],[657,-20.15],[658,-20.24],[659,-20.05],[660,-20.54],[661,-20.1],[662,-20.04],[663,-20.2],[664,-20.06],[665,-20.25],[666,-20.1],[667,-20.0],[668,-20.08],[669,-20.12]];
const fMin = [[0,-19.96],[1,-20.11],[7,-20.22],[26,-20.37],[62,-20.5],[64,-20.6],[174,-20.64],[347,-20.64],[670,-20.64]];

const gPts = [[1,-10.415],[3,-10.1],[4,-10.18],[5,-9.7],[6,-10.4],[7,-9.8],[8,-10.23],[9,-10.42],[10,-9.8],[11,-10.1],[12,-10.27],[13,-10.41],[14,-9.95],[15,-10.15],[16,-9.72],[17,-10.42],[18,-9.9],[19,-10.1],[20,-10.15],[21,-9.54],[22,-10.42],[23,-10.12],[24,-9.4],[25,-10.15],[26,-10.417],[27,-9.93],[28,-10.1],[29,-9.72],[30,-10.42],[31,-9.88],[32,-10.09],[33,-10.15],[34,-10.535],[35,-9.8],[36,-10.41],[37,-9.82],[38,-10.1],[39,-9.76],[40,-10.3],[41,-10.41],[42,-9.78],[43,-10.25],[44,-10.0],[46,-9.82],[47,-10.17],[48,-10.27],[49,-9.96],[50,-10.41],[51,-10.1],[52,-9.82],[53,-10.18],[55,-9.88],[56,-10.14],[57,-9.65],[58,-10.3],[59,-10.42],[60,-9.63],[61,-10.15],[62,-9.85],[63,-10.27],[65,-9.97],[66,-10.18],[67,-9.83],[68,-10.41],[70,-9.9],[72,-10.2],[73,-10.42],[75,-9.82],[76,-10.3],[79,-10.0],[81,-9.83],[82,-10.18],[84,-10.415],[85,-10.25],[87,-9.97],[90,-9.82],[91,-10.15],[93,-10.27],[94,-10.405],[96,-10.02],[97,-9.88],[100,-10.17],[101,-10.42],[102,-9.84],[103,-10.02],[106,-10.17],[107,-9.76],[108,-10.41],[109,-10.26],[112,-9.86],[113,-10.12],[115,-10.42],[116,-10.16],[117,-10.04],[119,-10.3],[122,-9.82],[123,-10.18],[124,-10.41],[126,-10.02],[127,-10.29],[129,-9.87],[130,-10.425],[131,-10.17],[133,-10.12],[136,-9.75],[137,-10.3],[138,-9.88],[139,-10.41],[141,-10.16],[142,-9.97],[145,-10.12],[146,-10.26],[147,-10.42],[148,-9.66],[149,-10.535],[151,-10.18],[152,-10.0],[154,-10.41],[155,-9.85],[156,-10.27],[158,-10.16],[160,-10.08],[161,-10.42],[162,-9.72],[164,-10.17],[165,-9.53],[167,-10.3],[168,-10.405],[169,-9.95],[171,-10.535],[172,-10.17],[174,-9.92],[175,-10.42],[176,-10.16],[178,-10.02],[180,-10.27],[181,-10.41],[182,-9.86],[184,-10.18],[187,-9.72],[188,-10.42],[189,-10.12],[191,-10.17],[193,-9.97],[194,-10.41],[195,-10.3],[197,-9.77],[199,-9.535],[200,-10.535],[201,-10.42],[202,-10.26],[203,-10.535],[204,-9.98],[205,-10.1],[207,-9.77],[208,-10.36],[209,-10.17],[210,-10.535],[211,-10.535],[212,-9.59],[213,-10.02],[214,-10.41],[215,-9.9],[216,-10.08],[217,-10.27],[219,-10.12],[220,-9.95],[221,-10.425],[222,-10.05],[223,-9.93],[225,-10.535],[226,-10.26],[228,-10.02],[229,-9.88],[230,-10.41],[232,-10.17],[233,-9.87],[236,-10.3],[237,-10.08],[238,-10.42],[240,-9.87],[241,-10.16],[244,-9.78],[245,-10.18],[246,-10.41],[248,-9.7],[249,-9.335],[251,-9.76],[252,-10.17],[253,-9.5],[254,-10.42],[255,-10.535],[256,-9.85],[258,-9.82],[259,-10.3],[260,-9.85],[261,-10.41],[262,-10.17],[263,-9.87],[265,-9.92],[266,-10.16],[268,-10.3],[269,-9.87],[270,-10.405],[271,-10.17],[272,-9.97],[273,-10.535],[275,-9.9],[276,-10.16],[277,-10.42],[278,-9.97],[279,-10.13],[281,-9.68],[282,-10.3],[283,-9.85],[284,-10.41],[285,-10.17],[286,-9.95],[288,-10.12],[289,-9.8],[291,-10.18],[292,-10.3],[293,-9.93],[294,-10.42],[295,-10.06],[296,-9.83],[298,-10.17],[299,-10.13],[300,-10.41],[301,-9.9],[302,-10.26],[304,-10.16],[305,-9.92],[307,-10.13],[308,-9.83],[309,-10.42],[310,-10.17],[311,-10.0],[313,-9.7],[314,-10.26],[315,-10.41],[316,-10.16],[317,-9.97],[319,-9.68],[320,-10.18],[322,-10.13],[323,-9.97],[324,-10.425],[325,-9.78],[326,-10.3],[328,-10.16],[329,-10.0],[331,-9.83],[332,-10.17],[333,-10.41],[334,-10.1],[335,-9.92],[337,-10.26],[338,-9.8],[339,-10.42],[340,-10.17],[341,-9.7],[342,-9.62],[344,-10.16],[345,-9.93],[346,-10.41],[347,-10.27],[348,-9.72],[350,-10.17],[351,-9.93],[353,-10.26],[354,-9.82],[355,-10.42],[356,-10.18],[357,-9.81],[359,-10.26],[360,-9.95],[361,-9.535],[362,-10.41],[363,-10.17],[364,-9.76],[366,-10.27],[367,-9.93],[368,-10.405],[369,-10.16],[370,-9.98],[372,-10.26],[373,-9.78],[374,-10.42],[375,-10.17],[376,-10.08],[378,-9.97],[379,-10.17],[380,-10.41],[381,-10.12],[382,-9.98],[384,-10.18],[385,-9.97],[386,-10.42],[387,-10.16],[388,-9.72],[390,-10.18],[391,-10.0],[392,-10.41],[393,-9.72],[394,-10.13],[396,-9.8],[397,-10.2],[398,-10.425],[399,-10.02],[400,-9.98],[402,-10.27],[403,-9.93],[404,-10.41],[405,-10.0],[406,-10.28],[408,-9.98],[409,-10.08],[410,-10.42],[411,-9.585],[412,-9.9],[414,-10.535],[415,-9.77],[416,-10.41],[417,-10.17],[418,-10.0],[420,-9.83],[421,-10.3],[422,-10.42],[423,-9.9],[424,-9.585],[426,-10.1],[427,-9.78],[428,-10.41],[429,-10.3],[430,-9.96],[432,-9.86],[433,-10.17],[434,-10.42],[435,-9.8],[436,-10.0],[438,-9.86],[439,-10.16],[440,-10.405],[441,-9.8],[442,-10.05],[444,-9.97],[445,-10.11],[446,-10.42],[447,-9.87],[448,-10.17],[450,-9.9],[451,-10.08],[452,-10.41],[453,-9.88],[454,-10.18],[456,-9.29],[457,-9.97],[458,-10.42],[459,-10.17],[460,-9.96],[462,-9.72],[463,-10.37],[464,-10.41],[465,-9.7],[466,-10.17],[468,-9.93],[469,-9.84],[470,-10.42],[471,-10.16],[472,-9.95],[474,-10.27],[475,-9.93],[476,-10.41],[477,-10.17],[478,-9.95],[480,-10.3],[481,-9.96],[482,-10.425],[483,-10.17],[484,-9.74],[486,-10.17],[487,-10.535],[488,-10.41],[489,-10.3],[490,-9.79],[492,-10.18],[493,-9.98],[494,-10.42],[495,-10.13],[496,-10.3],[497,-10.535],[499,-10.12],[500,-9.93],[501,-10.41],[502,-10.17],[503,-10.3],[505,-10.05],[506,-9.86],[507,-10.42],[508,-10.16],[509,-10.1],[511,-9.95],[512,-10.17],[513,-10.41],[514,-9.63],[515,-10.12],[517,-9.69],[518,-10.18],[519,-10.42],[520,-9.93],[521,-10.3],[523,-9.83],[524,-10.17],[525,-10.535],[526,-10.41],[527,-9.97],[528,-10.26],[530,-9.85],[531,-10.17],[532,-10.42],[533,-9.8],[534,-10.1],[536,-9.78],[537,-10.17],[538,-10.405],[539,-9.88],[540,-10.12],[542,-9.74],[543,-10.17],[544,-10.42],[545,-9.9],[546,-10.3],[548,-9.95],[549,-10.18],[550,-10.41],[551,-10.03],[552,-10.17],[554,-9.96],[555,-10.535],[556,-10.42],[557,-9.54],[558,-10.26],[560,-9.62],[561,-10.17],[562,-10.41],[563,-9.56],[564,-9.95],[566,-10.1],[567,-9.97],[568,-9.39],[569,-10.42],[570,-10.17],[571,-9.78],[573,-10.0],[574,-10.3],[575,-10.41],[576,-10.02],[577,-10.16],[579,-10.28],[580,-9.96],[581,-10.425],[582,-10.17],[583,-10.3],[585,-9.87],[586,-10.17],[587,-10.41],[588,-9.9],[589,-10.27],[590,-10.535],[592,-10.18],[593,-9.95],[594,-10.42],[595,-10.26],[596,-10.0],[598,-9.97],[599,-10.17],[600,-10.41],[601,-9.72],[602,-10.37],[604,-9.98],[605,-10.17],[606,-10.42],[607,-10.0],[608,-9.93],[610,-10.17],[611,-10.02],[612,-10.535],[613,-10.41],[614,-9.98],[615,-10.535],[617,-10.14],[618,-10.0],[619,-10.42],[620,-10.17],[621,-9.9],[623,-10.25],[624,-9.48],[625,-9.6],[626,-10.41],[627,-10.17],[628,-9.8],[630,-10.535],[631,-10.3],[632,-9.91],[633,-10.42],[634,-10.16],[635,-9.9],[637,-10.11],[638,-9.85],[639,-10.41],[640,-10.17],[641,-9.71],[643,-9.54],[644,-10.42],[645,-9.26],[646,-9.85],[648,-10.17],[649,-9.77],[650,-9.52],[651,-10.41],[652,-9.65],[653,-10.17],[655,-10.05],[656,-10.3],[657,-10.42],[658,-10.16],[659,-9.93],[661,-10.17],[662,-10.0],[663,-10.41],[664,-9.97],[665,-10.18],[667,-9.9],[668,-10.3],[669,-10.425],[670,-9.84],[671,-10.17],[673,-9.97],[674,-10.17],[675,-10.535],[676,-10.41],[677,-9.62],[678,-9.66],[680,-10.17],[681,-9.88],[682,-10.42],[683,-10.16],[684,-9.95],[686,-10.26],[687,-9.615],[688,-10.41],[689,-10.27],[690,-9.88],[692,-10.17],[693,-9.98],[694,-10.42],[695,-10.3],[696,-9.9],[698,-10.17],[699,-10.0],[700,-10.405],[701,-10.18],[702,-9.95],[704,-10.3],[705,-9.83],[706,-10.42],[707,-10.17],[708,-9.86],[710,-10.26],[711,-9.9],[712,-10.41],[713,-10.17],[714,-9.73],[716,-10.3],[717,-9.88],[718,-10.42],[719,-10.16],[720,-10.535],[722,-9.83],[723,-10.3],[724,-10.41],[725,-9.85],[726,-10.535],[728,-10.17],[729,-9.84],[730,-10.3],[731,-10.42],[732,-10.02],[733,-10.535],[735,-10.17],[736,-10.3],[737,-10.41],[738,-9.92],[739,-10.32],[741,-10.17],[742,-9.92],[743,-10.42],[744,-10.18],[745,-9.9],[747,-10.17],[748,-9.85],[749,-10.41],[750,-10.16],[751,-9.8],[753,-9.97],[754,-10.18],[755,-9.485],[756,-10.42],[757,-9.71],[758,-10.16],[759,-9.94],[761,-10.3],[762,-10.26],[763,-10.41],[764,-10.535],[765,-10.05]];
const gMin = [[1,-10.415],[26,-10.417],[34,-10.535],[211,-10.535],[764,-10.535]];

// tick values
const aYTicks = [-20.4,-20.2,-20.0,-19.8,-19.6,-19.4,-19.2,-19.0];
const aXTicks = [0,100,200,300,400,500];
const bYTicks = [-16.5,-16.0,-15.5,-15.0,-14.5,-14.0,-13.5,-13.0,-12.5];
const bXTicks = [0,100,200,300,400];
const cYTicks = [-24.0,-23.5,-23.0,-22.5,-22.0,-21.5,-21.0,-20.5,-20.0];
const cXTicks = [0,100,200,300,400,500,600,700];
const dYTicks = [-20.5,-19.5,-18.5,-17.5,-16.5,-15.5];
const dXTicks = [0,100,200,300,400,500,600,700];
const eYTicks = [-25.0,-24.5,-24.0,-23.5,-23.0,-22.5,-22.0,-21.5];
const eXTicks = [0,100,200,300,400];
const fYTicks = [-21.0,-20.5,-20.0,-19.5,-19.0];
const fXTicks = [0,100,200,300,400,500,600,700];
const gYTicks = [-10.8,-10.6,-10.4,-10.2,-10.0,-9.8,-9.6,-9.4,-9.2];
const gXTicks = [0,100,200,300,400,500,600,700,800];

const FONT = '"Liberation Sans", Arial, Helvetica, sans-serif';
const BLUE = '#0070C0';
const ORANGE = '#ED7D31';
const AXIS = '#595959';

// layout: left = y-axis width, top/right = padding, xH = x-axis height
const panels = [
  { id: 'ca', pts: aPts, min: aMin, xMax: 500, yMin: -20.4, yMax: -19.0, xTicks: aXTicks, yTicks: aYTicks,
    box: { left: 111, top: 71, right: 63, xH: 83 },
    label: 'a)', title: 'AgF_2·CuF_2 at 0 GPa (Z=2)', labelX: 139, titleX: 185, titleY: 32,
    yTitle: [21.5, 247], xTitle: [275, 406.7],
    notes: [{ x: 242, y: -20.113, tip: [0, 4], tail: [14, 34], text: [18, 39], t: 'AgF_2 type SL' }] },
  { id: 'cb', pts: bPts, min: bMin, xMax: 400, yMin: -16.5, yMax: -12.5, xTicks: bXTicks, yTicks: bYTicks,
    box: { left: 146, top: 71, right: 29, xH: 83 },
    label: 'b)', title: 'AgF_2·CuF_2 at 10 GPa', labelX: 171.7, titleX: 218.3, titleY: 32,
    yTitle: [55, 247], xTitle: [309, 406.7],
    notes: [{ x: 41, y: -15.59, tip: [3, 7], tail: [17, 36], text: [23, 46], t: 'AgF_2 type SL and 3D (seeds)' }] },
  { id: 'cc', pts: cPts, min: cMin, xMax: 700, yMin: -24.0, yMax: -20.0, xTicks: cXTicks, yTicks: cYTicks,
    box: { left: 111, top: 78, right: 63, xH: 87 },
    label: 'c)', title: 'AgF_2·NiF_2 at 0 GPa', labelX: 139, titleX: 185, titleY: 41.7,
    yTitle: [21.5, 253], xTitle: [275, 412.7],
    notes: [{ x: 350, y: -23.43, tip: [2, 3], tail: [14, 20], text: [17, 24], t: 'AgF_2 type 3D' }] },
  { id: 'cd', pts: dPts, min: dMin, xMax: 700, yMin: -20.5, yMax: -15.0, xTicks: dXTicks, yTicks: dYTicks,
    box: { left: 146, top: 77, right: 29, xH: 87 },
    label: 'd)', title: 'AgF_2·NiF_2 at 10 GPa', labelX: 206, titleX: 253.3, titleY: 41.7,
    yTitle: [55, 253], xTitle: [309, 412.7],
    notes: [{ x: 250, y: -19.68, tip: [1, 2], tail: [10, 20], text: [16.5, 28.5], t: 'AgF_2 type SL' }] },
  { id: 'ce', pts: ePts, min: eMin, xMax: 400, yMin: -25.0, yMax: -21.5, xTicks: eXTicks, yTicks: eYTicks,
    box: { left: 111, top: 70, right: 63, xH: 94 },
    label: 'e)', title: 'AgF_2·CoF2 at 0 GPa', labelX: 139, titleX: 185, titleY: 41.7,
    yTitle: [21.5, 246.7], xTitle: [275, 405],
    notes: [{ x: 104, y: -24.3, tip: [3.6, 7], tail: [14.6, 22.7], text: [4.6, 42], t: 'KFeF_4-HT type' },
            { x: 228, y: -24.36, tip: [2.4, 3.7], tail: [26.4, 17.4], text: [28.4, 21.4], t: 'AgF_2 type SL' }] },
  { id: 'cf', pts: fPts, min: fMin, xMax: 700, yMin: -21.0, yMax: -19.0, xTicks: fXTicks, yTicks: fYTicks,
    box: { left: 146, top: 70, right: 29, xH: 94 },
    label: 'f)', title: 'AgF_2·CoF_2 at 10 GPa', labelX: 170.7, titleX: 211.7, titleY: 41.7,
    yTitle: [55, 246.7], xTitle: [309, 405],
    notes: [{ x: 347, y: -20.64, tip: [6, 4], tail: [17.6, 20.6], text: [21.6, 32.2], t: 'KMnF_4 type dist.' }] },
  { id: 'cg', pts: gPts, min: gMin, xMax: 800, yMin: -10.8, yMax: -9.2, xTicks: gXTicks, yTicks: gYTicks,
    box: { left: 111, top: 68, right: 63, xH: 64 },
    label: 'g)', title: 'NiF_2 at 20 GPa', labelX: 139, titleX: 187.3, titleY: 41.7,
    yTitle: [21.5, 243], xTitle: [275, 403],
    notes: [{ x: 211, y: -10.535, tip: [3.7, 2.3], tail: [15.4, 19], text: [19.4, 30.6], t: 'AgF_2 type (*Pbca*)' }] }
];

// text with _x = subscript char, *...* = italic
function drawRich(ctx, str, x, y, size, weight) {
  let italic = false, cx = x;
  ctx.textAlign = 'left';
  ctx.textBaseline = 'alphabetic';
  for (let i = 0; i < str.length; i++) {
    let c = str[i];
    if (c === '*') { italic = !italic; continue; }
    let sub = false;
    if (c === '_') { sub = true; c = str[++i]; }
    const sz = sub ? Math.round(size * 0.62) : size;
    ctx.font = (italic ? 'italic ' : '') + weight + ' ' + sz + 'px ' + FONT;
    ctx.fillText(c, cx, y + (sub ? size * 0.26 : 0));
    cx += ctx.measureText(c).width;
  }
}

function arrow(ctx, x1, y1, x2, y2) {
  const a = Math.atan2(y2 - y1, x2 - x1), L = 7, W = 2.6;
  const bx = x2 - L * Math.cos(a), by = y2 - L * Math.sin(a);
  ctx.strokeStyle = '#000';
  ctx.lineWidth = 1;
  ctx.beginPath(); ctx.moveTo(x1, y1); ctx.lineTo(bx, by); ctx.stroke();
  ctx.beginPath();
  ctx.moveTo(x2, y2);
  ctx.lineTo(bx - W * Math.sin(a), by + W * Math.cos(a));
  ctx.lineTo(bx + W * Math.sin(a), by - W * Math.cos(a));
  ctx.closePath(); ctx.fill();
}

function drawTexts(chart, p) {
  const ctx = chart.ctx;
  ctx.save();
  ctx.fillStyle = '#000';
  drawRich(ctx, p.label, p.labelX, p.titleY, 23, 'bold');
  drawRich(ctx, p.title, p.titleX, p.titleY, 23, 'bold');

  ctx.font = '21px ' + FONT;
  ctx.textAlign = 'center';
  ctx.textBaseline = 'middle';
  ctx.save();
  ctx.translate(p.yTitle[0], p.yTitle[1]);
  ctx.rotate(-Math.PI / 2);
  ctx.fillText('ΔH per FU / eV', 0, 0);
  ctx.restore();
  ctx.textBaseline = 'alphabetic';
  ctx.fillText('Structure No.', p.xTitle[0], p.xTitle[1]);

  const xs = chart.scales.x, ys = chart.scales.y;
  p.notes.forEach(n => {
    const px = xs.getPixelForValue(n.x), py = ys.getPixelForValue(n.y);
    arrow(ctx, px + n.tail[0], py + n.tail[1], px + n.tip[0], py + n.tip[1]);
    drawRich(ctx, n.t, px + n.text[0], py + n.text[1], 19, 'normal');
  });
  ctx.restore();
}

function axisOpts(p, ticks, isY) {
  return {
    type: 'linear',
    bounds: 'data',
    min: isY ? p.yMin : 0,
    max: isY ? p.yMax : p.xMax,
    afterBuildTicks: s => { s.ticks = ticks.map(v => ({ value: v })); },
    afterFit: s => { if (isY) s.width = p.box.left; else s.height = p.box.xH; },
    ticks: {
      color: '#000', font: { family: FONT, size: 20 }, padding: isY ? 13 : 8,
      autoSkip: false, maxRotation: 0,
      callback: v => isY ? v.toFixed(1) : String(v)
    },
    grid: { drawOnChartArea: false, drawTicks: true, tickLength: 5, color: AXIS, lineWidth: 1.3 },
    border: { display: true, color: AXIS, width: 1.3 }
  };
}

panels.forEach(p => {
  new Chart(document.getElementById(p.id), {
    type: 'scatter',
    data: {
      datasets: [
        { data: p.pts.map(([x, y]) => ({ x, y })), showLine: false,
          pointStyle: 'rectRot', pointRadius: 2.8, pointBackgroundColor: BLUE, pointBorderWidth: 0 },
        { data: p.min.map(([x, y]) => ({ x, y })), showLine: true,
          borderColor: ORANGE, borderWidth: 1.5,
          pointStyle: 'rect', pointRadius: p.min.map((_, i) => i === p.min.length - 1 ? 0 : 3.6),
          pointBackgroundColor: ORANGE, pointBorderColor: '#F4A46C', pointBorderWidth: 1 }
      ]
    },
    options: {
      responsive: false,
      animation: false,
      layout: { padding: { left: 0, top: p.box.top, right: p.box.right, bottom: 0 } },
      plugins: { legend: { display: false }, tooltip: { enabled: false }, title: { display: false } },
      scales: { x: axisOpts(p, p.xTicks, false), y: axisOpts(p, p.yTicks, true) }
    },
    plugins: [{ id: 'panelText', afterDraw: chart => drawTexts(chart, p) }]
  });
});
</script>
</body>
</html>
